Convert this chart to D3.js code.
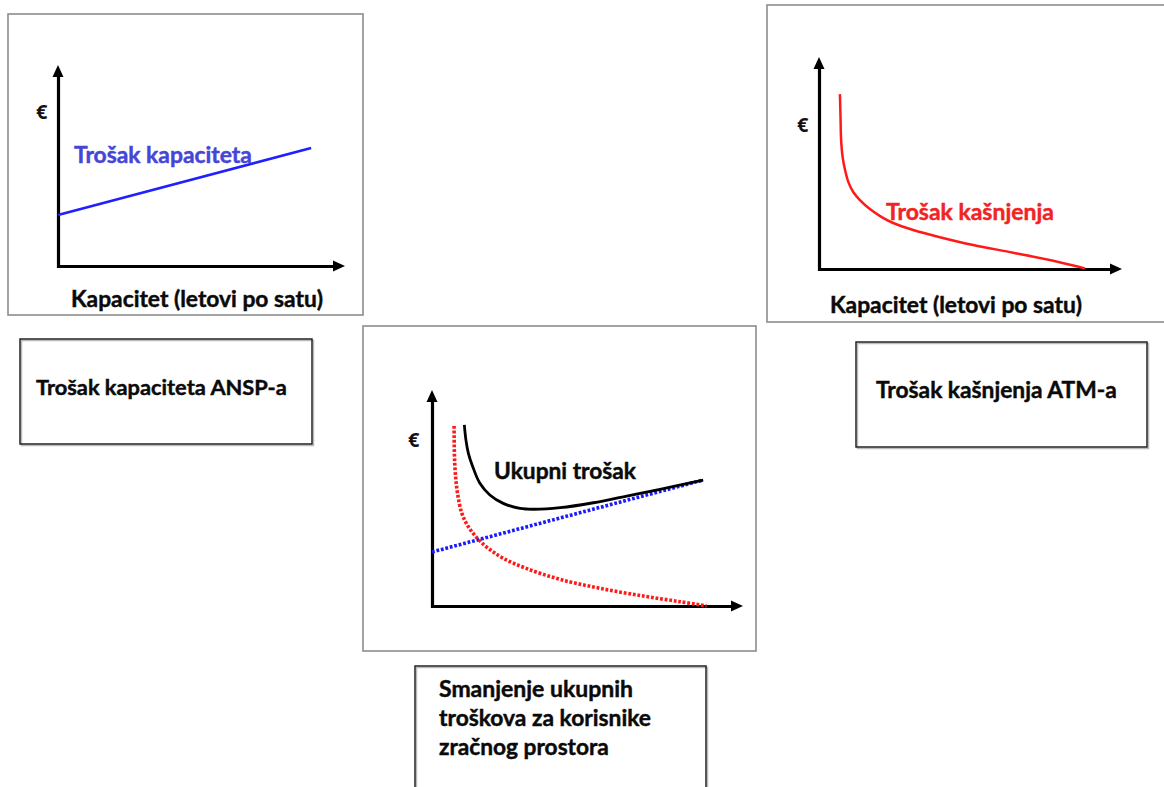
<!DOCTYPE html>
<html><head><meta charset="utf-8">
<script src="https://cdn.jsdelivr.net/npm/d3@7"></script>
<style>body{margin:0;background:#fff} svg{display:block}</style>
</head><body>
<svg id="c" width="1164" height="787"></svg>
<script>
// ---------- data (capacity index 0-100, cost index 0-100) ----------
const capacityX    = [0, 88.2];
const capacityCost = [25.4, 58.7];

const delayX    = [6.9, 7.1, 7.3, 7.8, 8.6, 9.7, 11.3, 13.5, 16.8, 20.7, 24.5, 31.1, 39.9, 50.9, 64.1, 77.3, 87.8];
const delayCost = [82.5, 71.7, 60.8, 52.8, 46.7, 41.0, 36.3, 32.5, 28.3, 24.5, 21.7, 18.4, 15.0, 11.3, 7.7, 3.9, 0.3];

const sumCapX    = [0, 87.1];
const sumCapCost = [25.0, 58.3];
const sumDelayX    = [7.1, 7.2, 7.5, 8.2, 9.6, 11.7, 14.6, 18.1, 22.9, 30.3, 41.2, 54.0, 67.9, 79.7, 88.3];
const sumDelayCost = [83.3, 70.7, 61.4, 52.2, 42.9, 36.7, 31.3, 26.7, 22.1, 17.4, 12.3, 8.2, 4.6, 2.0, 0];
const totalX    = [10.4, 10.9, 11.7, 13.1, 15.4, 18.6, 22.9, 28.3, 32.6, 41.2, 51.9, 62.6, 73.3, 87.2];
const totalCost = [83.8, 76.9, 70.7, 64.5, 56.8, 51.4, 47.5, 45.2, 44.8, 45.5, 47.8, 50.9, 54.0, 58.3];

const axisTitle = "Kapacitet (letovi po satu)";
const yTitle = "€";
const seriesLabels = ["Trošak kapaciteta", "Trošak kašnjenja", "Ukupni trošak"];
const boxLabels = ["Trošak kapaciteta ANSP-a", "Trošak kašnjenja ATM-a"];
const summaryLines = ["Smanjenje ukupnih", "troškova za korisnike", "zračnog prostora"];

// ---------- drawing ----------
const svg = d3.select("#c");
const FONT = "Lato, 'Open Sans', 'DejaVu Sans', sans-serif";

function fitText(sel, width, base) {
  base = base || 20;
  sel.attr("font-size", base);
  const len = sel.node().getComputedTextLength();
  sel.attr("font-size", base * width / len);
  return sel;
}
function label(txt, x, y, width, color) {
  const c = color || "#0a0a0a";
  const t = svg.append("text").attr("x", x).attr("y", y)
    .attr("font-family", FONT).attr("font-weight", "bold")
    .attr("fill", c).attr("stroke", c).attr("stroke-width", 0.45).text(txt);
  return fitText(t, width);
}
function rect(x0, y0, x1, y1, stroke, sw) {
  svg.append("rect").attr("x", x0).attr("y", y0).attr("width", x1 - x0).attr("height", y1 - y0)
    .attr("fill", "none").attr("stroke", stroke).attr("stroke-width", sw);
}

function panel(p) {
  const x = d3.scaleLinear().domain([0, 100]).range([p.ox, p.xTip]);
  const y = d3.scaleLinear().domain([0, 100]).range([p.oy, p.yTip]);
  const head = 12, half = 5.5;
  const g = svg.append("g");
  const xa = g.append("g").attr("transform", `translate(0,${p.oy})`)
    .call(d3.axisBottom(x.copy().range([p.ox - 1.5, p.xTip - head + 2])).tickValues([]).tickSizeOuter(0));
  const ya = g.append("g").attr("transform", `translate(${p.ox},0)`)
    .call(d3.axisLeft(y.copy().range([p.oy + 1.5, p.yTip + head - 2])).tickValues([]).tickSizeOuter(0));
  [xa, ya].forEach(a => a.select(".domain").attr("stroke", "#000").attr("stroke-width", 3.2));
  const xt = x(100), yt = y(100);
  g.append("path").attr("d", `M${xt},${p.oy} L${xt - head},${p.oy - half} L${xt - head},${p.oy + half} Z`).attr("fill", "#000");
  g.append("path").attr("d", `M${p.ox},${yt} L${p.ox - half},${yt + head} L${p.ox + half},${yt + head} Z`).attr("fill", "#000");
  svg.append("text").attr("x", p.eur[0]).attr("y", p.eur[1]).attr("font-family", "'Open Sans', Lato, sans-serif")
    .attr("font-weight", "bold").attr("font-size", 20).attr("fill", "#111").text(yTitle);
  p.series.forEach(s => {
    const line = d3.line().x(d => x(d[0])).y(d => y(d[1])).curve(s.curve || d3.curveLinear);
    g.append("path").datum(d3.zip(s.xs, s.ys)).attr("d", line)
      .attr("fill", "none").attr("stroke", s.color).attr("stroke-width", s.width)
      .attr("stroke-dasharray", s.dash || null).attr("stroke-linecap", "butt");
  });
}

// panel borders
rect(8, 14, 363, 315, "#8c8c8c", 1.6);
rect(767, 5, 1170, 322, "#8c8c8c", 1.6);
rect(363, 326, 756, 651, "#8c8c8c", 1.6);
// text boxes
[[20, 339, 312, 444], [856, 342, 1147, 447], [415, 666, 706, 800]].forEach(b => {
  svg.append("rect").attr("x", b[0] + 1.5).attr("y", b[1] + 1.5).attr("width", b[2] - b[0]).attr("height", b[3] - b[1])
    .attr("fill", "none").attr("stroke", "#bbb").attr("stroke-width", 1.5);
  rect(b[0], b[1], b[2], b[3], "#222", 1.5);
});

const smooth = d3.curveCatmullRom.alpha(0.5);
panel({ ox: 58, oy: 266, xTip: 345, yTip: 65, eur: [36, 119],
  series: [{ xs: capacityX, ys: capacityCost, color: "#1f1fff", width: 2.6 }] });
panel({ ox: 819, oy: 269, xTip: 1122, yTip: 57, eur: [797, 132],
  series: [{ xs: delayX, ys: delayCost, color: "#ff1a1a", width: 2.5, curve: smooth }] });
panel({ ox: 432, oy: 606, xTip: 743, yTip: 390, eur: [408, 447],
  series: [
    { xs: sumCapX, ys: sumCapCost, color: "#1a1aff", width: 3.6, dash: "2.8 1.8" },
    { xs: sumDelayX, ys: sumDelayCost, color: "#ff1a1a", width: 3.6, dash: "2.8 1.8", curve: smooth },
    { xs: totalX, ys: totalCost, color: "#000", width: 2.8, curve: smooth }
  ] });

// series labels
label(seriesLabels[0], 74, 163, 178, "#4646d6");
label(seriesLabels[1], 886, 220, 168, "#f02424");
label(seriesLabels[2], 494, 479, 142);
// axis titles
label(axisTitle, 71, 307, 252);
label(axisTitle, 830, 313, 252);
// box labels
label(boxLabels[0], 36, 395, 251);
label(boxLabels[1], 876, 398, 241);
const sw = [194, 212, 170];
summaryLines.forEach((t, i) => label(t, 439, 697 + i * 29, sw[i]));
</script>
</body></html>
